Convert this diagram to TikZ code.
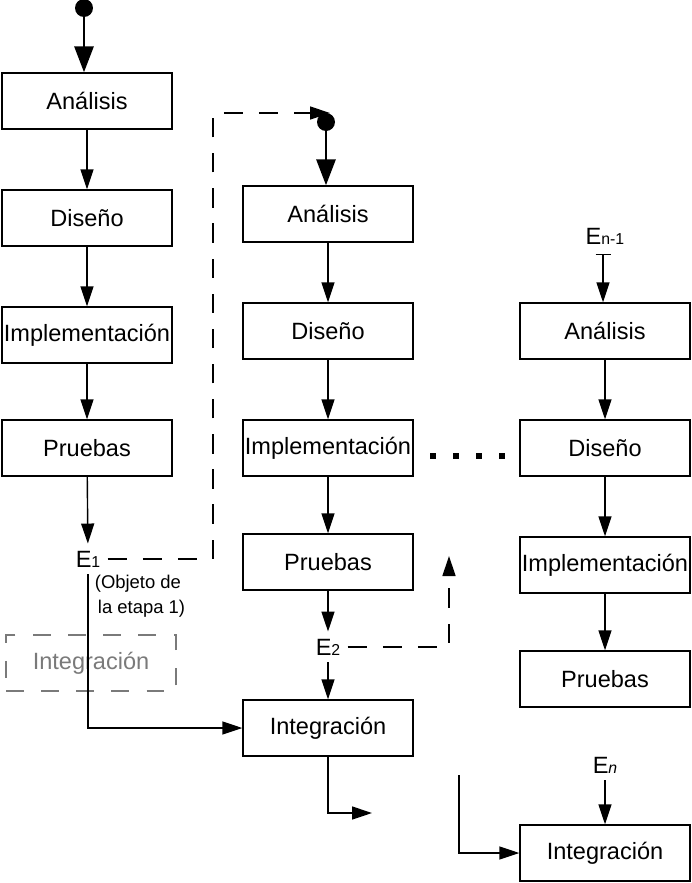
\documentclass[tikz,border=0pt]{standalone}
\usepackage{fontspec}
\setmainfont{Liberation Sans}
\usetikzlibrary{arrows.meta,positioning}
\definecolor{gris}{HTML}{7A7A7A}

\begin{document}
\begin{tikzpicture}[x=0.02cm,y=-0.02cm,>={Triangle[length=0.4cm,width=0.26cm]},
    fase/.style={draw,line width=0.8pt,minimum width=3.4cm,minimum height=1.12cm,
      inner sep=0pt,font=\fontsize{13.4}{16}\selectfont},
    etapa/.style={inner sep=4pt,font=\fontsize{13.4}{16}\selectfont},
    flecha/.style={->,line width=0.8pt},
    inicio/.style={->,line width=1.7pt,>={Triangle[length=0.52cm,width=0.38cm]}},
    retorno/.style={->,line width=0.8pt,dash pattern=on 11pt off 9pt}]
  \useasboundingbox (0,0) rectangle (691,883);
  % columna 1
  \node[fase] (a1) at (87,101) {Análisis};
  \node[fase] (d1) at (87,218) {Diseño};
  \node[fase] (i1) at (87,335) {Implementación};
  \node[fase] (p1) at (87,448) {Pruebas};
  \node[fase,gris,dash pattern=on 10pt off 10pt] (g1) at (91,663) {Integración};
  % columna 2
  \node[fase] (a2) at (328,214) {Análisis};
  \node[fase] (d2) at (328,331) {Diseño};
  \node[fase] (i2) at (328,448) {Implementación};
  \node[fase] (p2) at (328,562) {Pruebas};
  \node[fase] (g2) at (328,728) {Integración};
  % columna 3
  \node[fase] (a3) at (605,331) {Análisis};
  \node[fase] (d3) at (605,448) {Diseño};
  \node[fase] (i3) at (605,565) {Implementación};
  \node[fase] (p3) at (605,679) {Pruebas};
  \node[fase] (g3) at (605,853) {Integración};
  % entregas
  \node[etapa] (e1) at (88,559) {E{\fontsize{9}{9}\selectfont 1}};
  \node[etapa] (e2) at (328,647) {E{\fontsize{9}{9}\selectfont 2}};
  \node[etapa] (en1) at (605,236) {E{\fontsize{9}{9}\selectfont n-1}};
  \node[etapa] (en) at (605,765) {E{\fontsize{9}{9}\selectfont\itshape n}};
  \node[align=left,inner sep=0pt,font=\fontsize{10.5}{14}\selectfont] (obj) at (140,596)
    {(Objeto de\\ \,la etapa 1)};
  % comienzos
  \coordinate (c1) at (84,8);
  \coordinate (c2) at (326,122);
  \fill (c1) circle (0.18cm);
  \fill (c2) circle (0.18cm);
  \draw[inicio] (c1) -- (c1 |- a1.north);
  \draw[inicio] (c2) -- (c2 |- a2.north);
  % flujo interno
  \foreach \x/\y in {a1/d1,d1/i1,i1/p1,a2/d2,d2/i2,i2/p2,a3/d3,d3/i3,i3/p3}
    \draw[flecha] (\x) -- (\y);
  \draw[flecha] (p1) -- (e1);
  \draw[flecha] (p2) -- (e2);
  \draw[flecha] (e2) -- (g2);
  \draw[flecha] (en) -- (g3);
  \draw[flecha] (e1.south) |- (g2.west);
  \coordinate (r1) at (330,113);
  \draw[retorno] (e1.east) -| (213,113) -- (r1);
  \coordinate (r2) at (449,556);
  \draw[retorno] (e2.east) -| (r2);
  \coordinate (s2) at (372,813);
  \draw[flecha] (g2.south) |- (s2);
  \coordinate (s3) at (459,775);
  \draw[flecha] (s3) |- (g3.west);
  \coordinate (t3) at (603,254);
  \draw[line width=0.8pt,{Bar[width=0.3cm]}-{Triangle[length=0.4cm,width=0.26cm]}]
    (t3) -- (t3 |- a3.north);
  % puntos suspensivos
  \foreach \x in {433,456,479,502}
    \fill (\x,456) ++(-3,-3) rectangle ++(6,6);
\end{tikzpicture}
\end{document}
